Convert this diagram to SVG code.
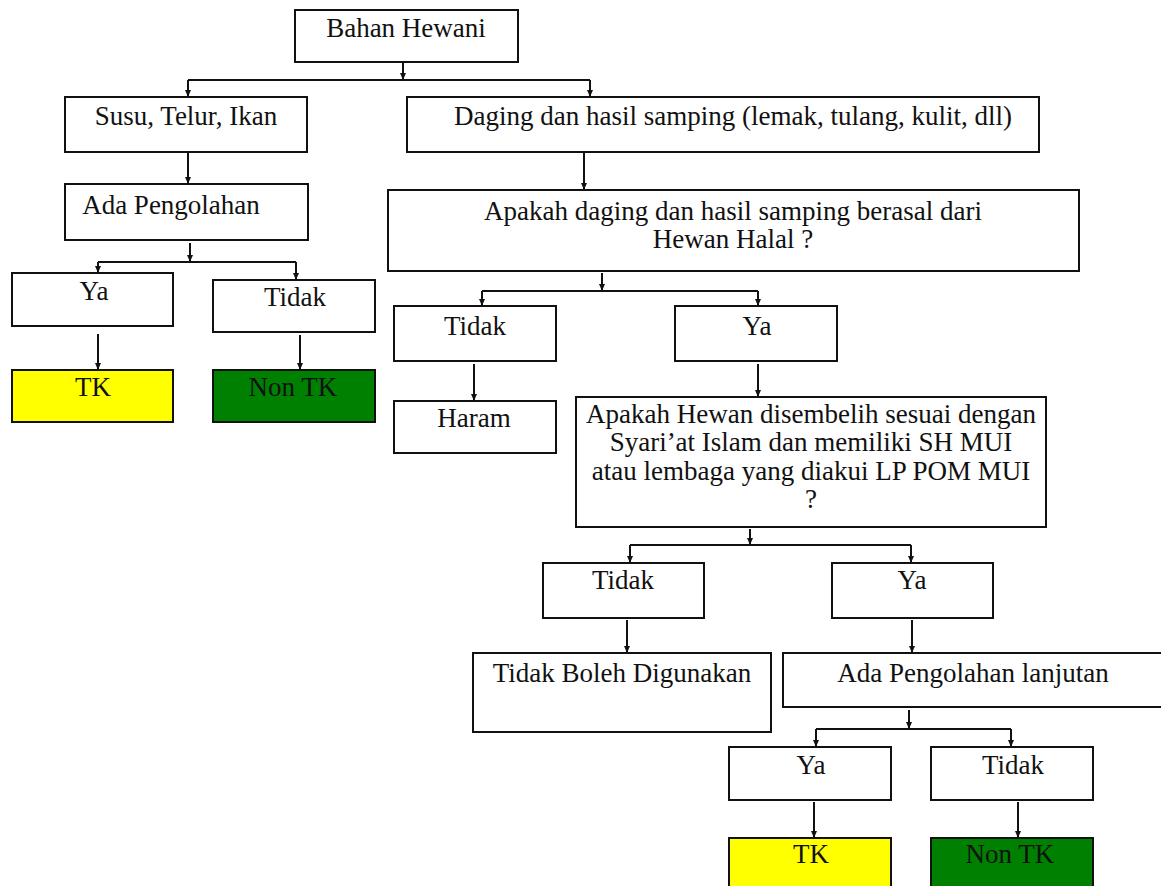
<svg xmlns="http://www.w3.org/2000/svg" width="1161" height="886" viewBox="0 0 1161 886">
<style>
.b{fill:#fff;stroke:#111;stroke-width:2}
.y{fill:#ffff00;stroke:#111;stroke-width:2}
.g{fill:#008000;stroke:#111;stroke-width:2}
text{font-family:"Liberation Serif","Times New Roman",serif;font-size:27px;fill:#111;text-anchor:middle}
.c path{fill:none;stroke:#111;stroke-width:2}
</style>
<defs>
<marker id="ah" viewBox="0 0 8 8" refX="7.5" refY="4" markerWidth="8" markerHeight="8" orient="auto" markerUnits="userSpaceOnUse">
<path d="M0,0.8 L7.5,4 L0,7.2 z" fill="#111"/>
</marker>
</defs>
<rect width="1161" height="886" fill="#fff"/>
<g class="c" id="connectors">
<path d="M403,62 V80" marker-end="url(#ah)"/>
<path d="M188,80 H590"/>
<path d="M188,80 V97" marker-end="url(#ah)"/>
<path d="M590,80 V97" marker-end="url(#ah)"/>
<path d="M188,152 V184" marker-end="url(#ah)"/>
<path d="M584,152 V190" marker-end="url(#ah)"/>
<path d="M190,243 V262" marker-end="url(#ah)"/>
<path d="M98,262 H296"/>
<path d="M98,262 V273" marker-end="url(#ah)"/>
<path d="M296,262 V280" marker-end="url(#ah)"/>
<path d="M98,334 V370" marker-end="url(#ah)"/>
<path d="M300,335 V370" marker-end="url(#ah)"/>
<path d="M602,273 V291" marker-end="url(#ah)"/>
<path d="M482,291 H758"/>
<path d="M482,291 V306" marker-end="url(#ah)"/>
<path d="M758,291 V306" marker-end="url(#ah)"/>
<path d="M474,364 V401" marker-end="url(#ah)"/>
<path d="M758,364 V397" marker-end="url(#ah)"/>
<path d="M750,529 V545" marker-end="url(#ah)"/>
<path d="M630,545 H911"/>
<path d="M630,545 V563" marker-end="url(#ah)"/>
<path d="M911,545 V563" marker-end="url(#ah)"/>
<path d="M627,620 V653" marker-end="url(#ah)"/>
<path d="M912,620 V653" marker-end="url(#ah)"/>
<path d="M909,710 V729" marker-end="url(#ah)"/>
<path d="M816,729 H1011"/>
<path d="M816,729 V747" marker-end="url(#ah)"/>
<path d="M1011,729 V747" marker-end="url(#ah)"/>
<path d="M814,802 V838" marker-end="url(#ah)"/>
<path d="M1018,802 V838" marker-end="url(#ah)"/>
</g>
<g id="bahan"><rect class="b" x="295" y="10" width="223" height="52"/><text x="406" y="37">Bahan Hewani</text></g>
<g id="susu"><rect class="b" x="65" y="97" width="242" height="55"/><text x="186" y="125">Susu, Telur, Ikan</text></g>
<g id="daging"><rect class="b" x="407" y="97" width="632" height="55"/><text x="733" y="125">Daging dan hasil samping (lemak, tulang, kulit, dll)</text></g>
<g id="ada"><rect class="b" x="65" y="184" width="243" height="56"/><text x="171" y="214">Ada Pengolahan</text></g>
<g id="apakah1"><rect class="b" x="388" y="190" width="691" height="81"/><text x="733" y="220">Apakah daging dan hasil samping berasal dari</text><text x="733" y="248">Hewan Halal ?</text></g>
<g id="ya1"><rect class="b" x="12" y="273" width="161" height="53"/><text x="94" y="300">Ya</text></g>
<g id="tidak1"><rect class="b" x="213" y="280" width="162" height="52"/><text x="295" y="306">Tidak</text></g>
<g id="tk1"><rect class="y" x="12" y="370" width="161" height="52"/><text x="93" y="396">TK</text></g>
<g id="nontk1"><rect class="g" x="213" y="370" width="162" height="52"/><text x="293" y="396">Non TK</text></g>
<g id="tidak2"><rect class="b" x="394" y="306" width="162" height="55"/><text x="475" y="335">Tidak</text></g>
<g id="ya2"><rect class="b" x="675" y="306" width="162" height="55"/><text x="757" y="335">Ya</text></g>
<g id="haram"><rect class="b" x="394" y="401" width="162" height="52"/><text x="474" y="427">Haram</text></g>
<g id="apakah2"><rect class="b" x="576" y="397" width="470" height="130"/><text x="811" y="423">Apakah Hewan disembelih sesuai dengan</text><text x="811" y="451">Syari’at Islam dan memiliki SH MUI</text><text x="811" y="480">atau lembaga yang diakui LP POM MUI</text><text x="811" y="508">?</text></g>
<g id="tidak3"><rect class="b" x="543" y="563" width="161" height="55"/><text x="623" y="589">Tidak</text></g>
<g id="ya3"><rect class="b" x="832" y="563" width="161" height="55"/><text x="912" y="589">Ya</text></g>
<g id="tbd"><rect class="b" x="473" y="653" width="298" height="79"/><text x="622" y="682">Tidak Boleh Digunakan</text></g>
<g id="apl"><rect class="b" x="783" y="653" width="400" height="54"/><text x="973" y="682">Ada Pengolahan lanjutan</text></g>
<g id="ya4"><rect class="b" x="729" y="747" width="162" height="53"/><text x="811" y="774">Ya</text></g>
<g id="tidak4"><rect class="b" x="931" y="747" width="162" height="53"/><text x="1013" y="774">Tidak</text></g>
<g id="tk2"><rect class="y" x="729" y="838" width="162" height="60"/><text x="811" y="863">TK</text></g>
<g id="nontk2"><rect class="g" x="931" y="838" width="162" height="60"/><text x="1010" y="863">Non TK</text></g>
</svg>
